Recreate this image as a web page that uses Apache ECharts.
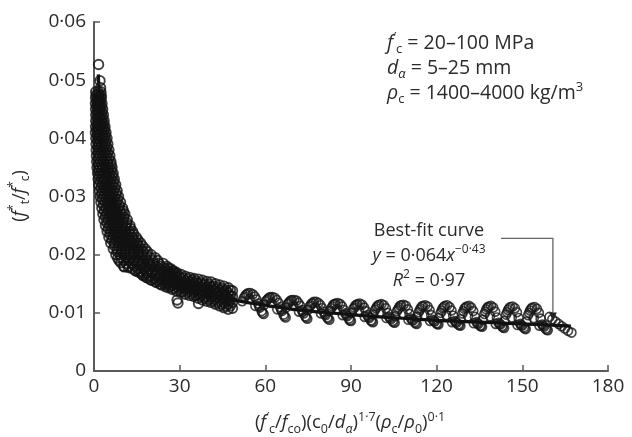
<!DOCTYPE html>
<html><head><meta charset="utf-8">
<script src="https://cdn.jsdelivr.net/npm/echarts/dist/echarts.min.js"></script>
<style>html,body{margin:0;padding:0;background:#fff}#c{width:632px;height:437px}</style>
</head><body><div id="c"></div><script>
// ---- tick labels ----
const xTickLabels = ['0','30','60','90','120','150','180'];
const yTickLabels = ['0','0·01','0·02','0·03','0·04','0·05','0·06'];

// ---- data ----
const topPoints = [[1.6,0.0527],[2.1,0.0499],[2.3,0.0487]];
// dense band, steep part: rows [y, xs]
const bandRows = [
 [0.048,[0.6,1.5,2.4]],
 [0.047,[0.55,1.25,1.9,2.6]],
 [0.046,[0.5,1.3,2.0,2.8]],
 [0.045,[0.55,1.4,2.2,3.05]],
 [0.044,[0.6,1.5,2.4,3.3]],
 [0.043,[0.6,1.6,2.6,3.55]],
 [0.042,[0.55,1.4,2.2,3.0,3.85]],
 [0.041,[0.5,1.4,2.3,3.3,4.2]],
 [0.040,[0.65,1.6,2.6,3.6,4.55]],
 [0.039,[0.72,1.75,2.8,3.8,4.85]],
 [0.038,[0.78,1.9,3.0,4.1,5.2]],
 [0.037,[0.85,2.0,3.2,4.4,5.55]],
 [0.036,[0.95,2.2,3.4,4.7,5.9]],
 [0.035,[1.05,2.1,3.15,4.2,5.25,6.3]],
 [0.034,[1.25,2.35,3.4,4.5,5.6,6.7]],
 [0.033,[1.45,2.6,3.7,4.85,6.0,7.1]],
 [0.032,[1.65,2.85,4.0,5.2,6.4,7.6]],
 [0.031,[1.9,3.15,4.4,5.6,6.85,8.1]],
 [0.030,[2.15,3.4,4.7,6.0,7.3,8.6]],
 [0.029,[2.4,3.8,5.2,6.5,7.9,9.3]],
 [0.028,[2.75,4.2,5.65,7.1,8.55,10.0]],
 [0.027,[3.1,4.4,5.7,7.0,8.2,9.5,10.8]],
 [0.026,[3.5,4.85,6.2,7.6,8.9,10.3,11.65]],
 [0.025,[4.0,5.4,6.85,8.3,9.7,11.15,12.6]],
 [0.024,[4.6,5.9,7.15,8.4,9.7,11.0,12.25,13.5]],
 [0.023,[5.2,6.6,8.0,9.3,10.7,12.1,13.4,14.8]],
 [0.022,[5.85,7.2,8.5,9.8,11.1,12.4,13.7,15.0,16.3]],
 [0.021,[6.75,8.1,9.5,10.9,12.3,13.7,15.1,16.5,17.9]],
 [0.020,[7.65,9.2,10.75,12.3,13.8,15.4,16.9,18.5,20.0]],
 [0.019,[8.8,10.5,12.2,13.9,15.5,17.2,18.9,20.6,22.3]],
 [0.018,[10.4,12.3,14.2,16.1,18.0,19.8,21.7,23.6,25.5]],
 [0.0172,[14.6,16.5,18.4,20.3,22.2,24.1,26.0,28.0]],
 [0.0164,[17.3,19.3,21.3,23.3,25.3]],
 [0.0156,[20.2,22.2,24.2,26.0]],
 [0.0148,[23.7,25.5]]
];
// inner rows between the rows above
const bandRowsInner = [
 [0.0475,[0.8,1.6,2.45]],
 [0.0465,[0.9,1.6,2.3]],
 [0.0455,[0.95,1.8,2.6]],
 [0.0445,[1.0,1.9,2.8]],
 [0.0435,[1.1,2.0,3.0]],
 [0.0425,[1.0,1.8,2.6,3.4]],
 [0.0415,[0.95,1.85,2.75,3.7]],
 [0.0405,[1.1,2.0,3.0,4.0]],
 [0.0395,[1.2,2.2,3.2,4.2]],
 [0.0385,[1.3,2.4,3.4,4.5]],
 [0.0375,[1.4,2.6,3.7,4.8]],
 [0.0365,[1.5,2.8,4.0,5.2]],
 [0.0355,[1.6,2.7,3.8,4.9,6.0]],
 [0.0345,[1.7,2.8,3.9,5.0,6.1]],
 [0.0335,[1.9,3.0,4.2,5.4,6.5]],
 [0.0325,[2.2,3.3,4.5,5.7,6.9]],
 [0.0315,[2.4,3.6,4.8,6.0,7.3]],
 [0.0305,[2.7,3.9,5.2,6.5,7.8]],
 [0.0295,[3.0,4.3,5.7,7.0,8.3]],
 [0.0285,[3.3,4.7,6.1,7.5,8.9]],
 [0.0275,[3.6,5.0,6.4,7.8,9.2,10.3]],
 [0.0265,[4.0,5.3,6.6,7.9,9.2,10.5]],
 [0.0255,[4.5,5.9,7.3,8.7,10.1,11.5]],
 [0.0245,[5.0,6.3,7.6,8.9,10.2,11.5,12.8]],
 [0.0235,[5.6,7.0,8.4,9.8,11.2,12.6,13.9]],
 [0.0225,[6.3,7.6,8.9,10.2,11.5,12.8,14.1,15.4]],
 [0.0215,[7.2,8.6,10.0,11.4,12.8,14.2,15.6,17.0]],
 [0.0205,[8.2,9.7,11.2,12.7,14.2,15.7,17.2,18.7]],
 [0.0195,[9.5,11.2,12.9,14.6,16.3,18.0,19.7,21.4]],
 [0.0185,[11.4,13.2,15.1,17.0,18.9,20.8,22.7,24.2]],
 [0.0176,[15.5,17.4,19.3,21.2,23.1,25.0,26.8]],
 [0.0168,[16.5,18.4,20.4,22.4,24.4,26.3,28.5]],
 [0.0160,[18.8,20.8,22.8,24.8]],
 [0.0152,[22.0,24.0,25.8]]
];
// dense band, flat part: columns [x, ys]
const bandCols = [
 [26,[0.0143,0.0150,0.0157,0.0164,0.0171,0.0177]],
 [27.5,[0.0140,0.0148,0.0156,0.0164,0.0172]],
 [29,[0.0137,0.0145,0.0153,0.0161,0.0169]],
 [30.5,[0.0135,0.0143,0.0150,0.0158,0.0166]],
 [32,[0.0132,0.0140,0.0148,0.0155,0.0163]],
 [33.5,[0.0130,0.0138,0.0145,0.0153,0.0161]],
 [35,[0.0128,0.0136,0.0144,0.0151,0.0159]],
 [36.5,[0.0125,0.0133,0.0141,0.0150,0.0158]],
 [38,[0.0122,0.0131,0.0139,0.0148,0.0156]],
 [39.5,[0.0120,0.0128,0.0137,0.0145,0.0154]],
 [41,[0.0118,0.0127,0.0135,0.0144,0.0153]],
 [42.5,[0.0115,0.0124,0.0133,0.0141,0.0150]],
 [44,[0.0112,0.0121,0.0130,0.0139,0.0148]],
 [45.5,[0.0109,0.0118,0.0127,0.0137,0.0146]],
 [47,[0.0106,0.0115,0.0124,0.0134,0.0143]],
 [48.5,[0.0108,0.0118,0.0128,0.0138]]
];
const bandColsInner = [
 [26.75,[0.0145,0.0153,0.0161,0.0169]],
 [28.25,[0.0142,0.0150,0.0158,0.0166]],
 [29.75,[0.0140,0.0147,0.0155,0.0163]],
 [31.25,[0.0137,0.0145,0.0152,0.0160]],
 [32.75,[0.0135,0.0142,0.0150,0.0158]],
 [34.25,[0.0133,0.0140,0.0148,0.0156]],
 [35.75,[0.0130,0.0138,0.0146,0.0154]],
 [37.25,[0.0128,0.0136,0.0144,0.0152]],
 [38.75,[0.0125,0.0134,0.0142,0.0150]],
 [40.25,[0.0123,0.0132,0.0140,0.0149]],
 [41.75,[0.0121,0.0130,0.0138,0.0146]],
 [43.25,[0.0118,0.0127,0.0135,0.0144]],
 [44.75,[0.0115,0.0124,0.0133,0.0142]],
 [46.25,[0.0112,0.0121,0.0130,0.0139]],
 [47.75,[0.0112,0.0121,0.0130,0.0139]]
];
const lowerEdge = [[8.3,0.0194],[9.4,0.0186],[10.6,0.0179],[12.0,0.0178],[13.4,0.0176],[14.6,0.0173],[15.7,0.0170],[17.0,0.0165],[18.3,0.0161],[19.8,0.0157],[21.5,0.0153],[23.2,0.0149],[25.0,0.0145]];
const outliers = [[29.1,0.0122],[29.4,0.0117],[36.6,0.0116]];
// wavy part
const wave01 = [[51.9,0.0120],[52.5,0.0126],[53.2,0.0131],[54.0,0.0134],[54.8,0.0134],[55.6,0.0132],[56.3,0.0128],[56.9,0.0123],[57.5,0.0116],[58.1,0.0109],[58.7,0.0103],[59.4,0.0098],[54.5,0.0124],[56.5,0.0112]];
const wave02 = [[59.6,0.0114],[60.2,0.0120],[60.9,0.0124],[61.7,0.0127],[62.5,0.0127],[63.3,0.0126],[64.0,0.0122],[64.6,0.0117],[65.2,0.0110],[65.8,0.0103],[66.4,0.0097],[67.1,0.0092],[62.2,0.0117],[64.2,0.0106]];
const wave03 = [[67.2,0.0109],[67.8,0.0115],[68.5,0.0119],[69.3,0.0122],[70.1,0.0122],[70.9,0.0121],[71.6,0.0117],[72.2,0.0112],[72.8,0.0105],[73.4,0.0099],[74.0,0.0094],[74.7,0.0090],[69.8,0.0112],[71.8,0.0102]];
const wave04 = [[74.9,0.0105],[75.5,0.0111],[76.2,0.0116],[77.0,0.0119],[77.8,0.0119],[78.6,0.0117],[79.3,0.0113],[79.9,0.0108],[80.5,0.0102],[81.1,0.0096],[81.7,0.0092],[82.4,0.0088],[77.5,0.0109],[79.5,0.0099]];
const wave05 = [[82.5,0.0103],[83.1,0.0108],[83.8,0.0114],[84.6,0.0116],[85.4,0.0117],[86.2,0.0115],[86.9,0.0111],[87.5,0.0105],[88.1,0.0099],[88.7,0.0094],[89.3,0.0090],[90.0,0.0086],[85.1,0.0106],[87.1,0.0096]];
const wave06 = [[90.2,0.0100],[90.8,0.0107],[91.5,0.0112],[92.3,0.0115],[93.1,0.0116],[93.9,0.0114],[94.6,0.0109],[95.2,0.0103],[95.8,0.0096],[96.4,0.0091],[97.0,0.0087],[97.7,0.0084],[92.8,0.0104],[94.8,0.0093]];
const wave07 = [[97.8,0.0097],[98.4,0.0105],[99.1,0.0111],[99.9,0.0114],[100.7,0.0115],[101.5,0.0113],[102.2,0.0108],[102.8,0.0100],[103.4,0.0093],[104.0,0.0089],[104.6,0.0086],[105.3,0.0083],[100.4,0.0101],[102.4,0.0091]];
const wave08 = [[105.5,0.0094],[106.1,0.0103],[106.8,0.0109],[107.6,0.0113],[108.4,0.0114],[109.2,0.0112],[109.9,0.0106],[110.5,0.0098],[111.1,0.0090],[111.7,0.0087],[112.3,0.0084],[113.0,0.0081],[108.1,0.0099],[110.1,0.0088]];
const wave09 = [[113.1,0.0093],[113.7,0.0101],[114.4,0.0108],[115.2,0.0112],[116.0,0.0113],[116.8,0.0111],[117.5,0.0105],[118.1,0.0096],[118.7,0.0088],[119.3,0.0085],[119.9,0.0082],[120.6,0.0080],[115.7,0.0097],[117.7,0.0086]];
const wave10 = [[120.8,0.0091],[121.4,0.0100],[122.1,0.0108],[122.9,0.0112],[123.7,0.0113],[124.5,0.0110],[125.2,0.0104],[125.8,0.0095],[126.4,0.0086],[127.0,0.0083],[127.6,0.0080],[128.3,0.0078],[123.4,0.0096],[125.4,0.0084]];
const wave11 = [[128.4,0.0089],[129.0,0.0099],[129.7,0.0107],[130.5,0.0111],[131.3,0.0112],[132.1,0.0109],[132.8,0.0103],[133.4,0.0093],[134.0,0.0084],[134.6,0.0081],[135.2,0.0078],[135.9,0.0076],[131.0,0.0094],[133.0,0.0082]];
const wave12 = [[136.1,0.0088],[136.7,0.0098],[137.4,0.0106],[138.2,0.0111],[139.0,0.0112],[139.8,0.0109],[140.5,0.0102],[141.1,0.0092],[141.7,0.0083],[142.3,0.0080],[142.9,0.0077],[143.6,0.0074],[138.7,0.0094],[140.7,0.0081]];
const wave13 = [[143.7,0.0086],[144.3,0.0097],[145.0,0.0105],[145.8,0.0110],[146.6,0.0111],[147.4,0.0108],[148.1,0.0101],[148.7,0.0091],[149.3,0.0081],[149.9,0.0078],[150.5,0.0075],[151.2,0.0072],[146.3,0.0092],[148.3,0.0079]];
const wave14 = [[151.4,0.0085],[152.0,0.0096],[152.7,0.0104],[153.5,0.0109],[154.3,0.0110],[155.1,0.0107],[155.8,0.0100],[156.4,0.0090],[157.0,0.0080],[157.6,0.0076],[158.2,0.0073],[158.9,0.0070],[154.0,0.0091],[156.0,0.0078]];
const waveExtra = [[52.9,0.0128],[53.6,0.0132],[57.8,0.0112],[59.0,0.0100],
 [60.6,0.0122],[61.3,0.0126],[65.5,0.0106],[66.7,0.0094],
 [68.2,0.0117],[68.9,0.0121],[73.1,0.0102],[74.3,0.0092],
 [75.9,0.0113],[76.6,0.0117],[80.8,0.0098],[82.0,0.0090],
 [83.5,0.0111],[84.2,0.0115],[88.4,0.0096],[89.6,0.0087],
 [91.2,0.0109],[91.9,0.0114],[96.1,0.0093],[97.3,0.0085],
 [98.8,0.0108],[99.5,0.0113],[103.7,0.0091],[104.9,0.0084],
 [106.5,0.0106],[107.2,0.0112],[111.4,0.0088],[112.6,0.0082],
 [114.1,0.0105],[114.8,0.0111],[119.0,0.0086],[120.2,0.0081],
 [121.8,0.0104],[122.5,0.0110],[126.7,0.0084],[127.9,0.0079],
 [129.4,0.0103],[130.1,0.0109],[134.3,0.0082],[135.5,0.0077],
 [137.1,0.0102],[137.8,0.0109],[142.0,0.0081],[143.2,0.0075],
 [144.7,0.0101],[145.4,0.0108],[149.6,0.0079],[150.8,0.0073],
 [152.4,0.0100],[153.1,0.0107],[157.3,0.0078],[158.5,0.0071]];
const tailEnd = [[159.5,0.0093],[160.5,0.0089],[161.6,0.0085],[162.7,0.0081],[163.8,0.0077],[164.9,0.0073],[166.0,0.0069],[167.2,0.0066]];
// best-fit curve as read
const fitCurve = [[1.5,0.051],[2,0.0465],[3,0.040],[4,0.0355],[5,0.0322],[6,0.0298],[8,0.0263],[10,0.024],[12,0.0222],[15,0.0202],[20,0.0178],[25,0.0162],[30,0.015],[40,0.0133],[50,0.0121],[60,0.0113],[70,0.0106],[80,0.0101],[90,0.0097],[100,0.0093],[110,0.009],[120,0.0087],[130,0.0085],[140,0.0083],[150,0.0081],[160,0.0079],[167,0.0077]];
const arrowTarget = [160.7, 0.0087];

// ---- build scatter tables ----
const densePts = [].concat(topPoints);
[bandRows, bandRowsInner].forEach(rs => rs.forEach(r => r[1].forEach(x => densePts.push([x, r[0]]))));
[bandCols, bandColsInner].forEach(cs => cs.forEach(c => c[1].forEach(y => densePts.push([c[0], y]))));
[lowerEdge, outliers].forEach(a => a.forEach(p => densePts.push(p)));
const wavePts = [];
[wave01, wave02, wave03, wave04, wave05, wave06, wave07, wave08, wave09, wave10, wave11, wave12, wave13, wave14, waveExtra, tailEnd].forEach(a => a.forEach(p => wavePts.push(p)));

const FF = 'Open Sans';
const TXT = '#2a2a2a';
const AX = '#5a5a5a';
function rich(fs, sfs, lh) {
  return {
    n: {fontSize: fs, fontFamily: FF, fill: TXT, color: TXT, lineHeight: lh},
    i: {fontSize: fs, fontFamily: FF, fontStyle: 'italic', fill: TXT, color: TXT, lineHeight: lh},
    sb: {fontSize: sfs, fontFamily: FF, fill: TXT, color: TXT, verticalAlign: 'bottom'},
    sbi: {fontSize: sfs, fontFamily: FF, fontStyle: 'italic', fill: TXT, color: TXT, verticalAlign: 'bottom'},
    sp: {fontSize: sfs, fontFamily: FF, fill: TXT, color: TXT, verticalAlign: 'top'}
  };
}

const chart = echarts.init(document.getElementById('c'), null, {renderer: 'canvas'});
const option = {
  animation: false,
  backgroundColor: '#fff',
  grid: {left: 94, right: 24, top: 22, bottom: 66},
  xAxis: {
    type: 'value', min: 0, max: 180, interval: 30,
    axisLine: {show: true, onZero: false, lineStyle: {color: AX, width: 2}},
    axisTick: {show: true, inside: true, length: 6, lineStyle: {color: AX, width: 1.5}},
    axisLabel: {formatter: (v, i) => xTickLabels[i], fontSize: 19, fontFamily: FF, color: TXT, margin: 6},
    splitLine: {show: false}
  },
  yAxis: {
    type: 'value', min: 0, max: 0.06, interval: 0.01,
    axisLine: {show: true, onZero: false, lineStyle: {color: AX, width: 2}},
    axisTick: {show: true, inside: true, length: 6, lineStyle: {color: AX, width: 1.5}},
    axisLabel: {formatter: (v, i) => yTickLabels[i], fontSize: 19, fontFamily: FF, color: TXT, margin: 8},
    splitLine: {show: false}
  },
  series: [
    {
      type: 'scatter', data: densePts, symbol: 'circle', symbolSize: 9.5,
      itemStyle: {color: 'rgba(255,255,255,0)', borderColor: '#111', borderWidth: 1.9},
      silent: true, progressive: 0
    },
    {
      type: 'scatter', data: wavePts, symbol: 'circle', symbolSize: 9,
      itemStyle: {color: 'rgba(255,255,255,0)', borderColor: '#161616', borderWidth: 1.6},
      silent: true, progressive: 0
    },
    {
      type: 'line', data: fitCurve, smooth: true, showSymbol: false, symbol: 'none',
      lineStyle: {color: '#111', width: 3.2}, silent: true, z: 3
    }
  ]
};
chart.setOption(option);

const tip = chart.convertToPixel({gridIndex: 0}, arrowTarget);
const cornerY = tip[1] - 82;
chart.setOption({
  graphic: [
    {type: 'text', x: 20, y: 196, rotation: Math.PI / 2,
      style: {text: '{n|(}{i|f}{sp|*}{sb|t}{n|/}{i|f}{sp|*}{sb|c}{n|)}', rich: rich(18, 12, 24), align: 'center', verticalAlign: 'middle'}},
    {type: 'text', x: 350, y: 423,
      style: {text: '{n|(}{i|f}{sp|′}{sb|c}{n|/}{i|f}{sb|co}{n|)(c}{sb|0}{n|/}{i|d}{sbi|α}{n|)}{sp|1·7}{n|(}{i|ρ}{sb|c}{n|/}{i|ρ}{sb|0}{n|)}{sp|0·1}', rich: rich(18.5, 12.5, 25), align: 'center', verticalAlign: 'middle'}},
    {type: 'text', x: 387, y: 43,
      style: {text: '{i|f}{sp|′}{sb|c}{n| = 20–100 MPa}', rich: rich(19.5, 13, 25), align: 'left', verticalAlign: 'middle'}},
    {type: 'text', x: 387, y: 68,
      style: {text: '{i|d}{sbi|α}{n| = 5–25 mm}', rich: rich(19.5, 13, 25), align: 'left', verticalAlign: 'middle'}},
    {type: 'text', x: 387, y: 93,
      style: {text: '{i|ρ}{sb|c}{n| = 1400–4000 kg/m}{sp|3}', rich: rich(19.5, 13, 25), align: 'left', verticalAlign: 'middle'}},
    {type: 'text', x: 429, y: 231,
      style: {text: '{n|Best-fit curve}', rich: rich(18, 12, 24), align: 'center', verticalAlign: 'middle'}},
    {type: 'text', x: 429, y: 256,
      style: {text: '{i|y}{n| = 0·064}{i|x}{sp|−0·43}', rich: rich(18, 12, 24), align: 'center', verticalAlign: 'middle'}},
    {type: 'text', x: 429, y: 281,
      style: {text: '{i|R}{sp|2}{n| = 0·97}', rich: rich(18, 12, 24), align: 'center', verticalAlign: 'middle'}},
    {type: 'polyline', shape: {points: [[tip[0] - 52, cornerY], [tip[0], cornerY], [tip[0], tip[1] - 6]]},
      style: {stroke: '#666', lineWidth: 1.3, fill: null}, z: 10},
    {type: 'polygon', shape: {points: [[tip[0] - 4, tip[1] - 8], [tip[0] + 4, tip[1] - 8], [tip[0], tip[1]]]},
      style: {fill: '#222'}, z: 10}
  ]
});
</script></body></html>
